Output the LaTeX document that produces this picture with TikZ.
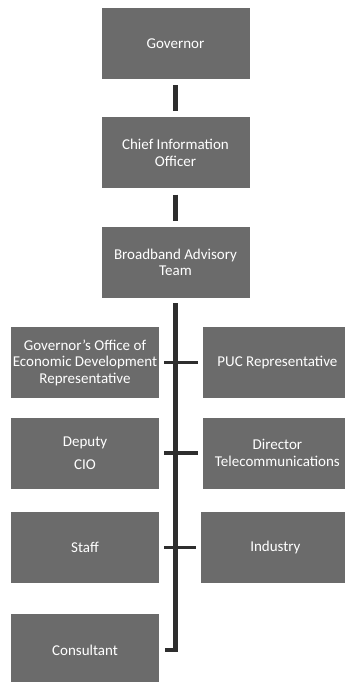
\documentclass[tikz,border=0pt]{standalone}
\usepackage{fontspec}
\setsansfont{Carlito}
\usetikzlibrary{positioning}
\definecolor{cBox}{gray}{0.42}
\definecolor{cLine}{gray}{0.18}
\tikzset{
  font=\sffamily,
  orgbox/.style={fill=cBox, text=white, minimum width=148pt, minimum height=71pt,
    inner sep=1pt, align=center, font=\sffamily\fontsize{15}{16.5}\selectfont},
  link/.style={draw=cLine, line width=4.5pt, shorten <=6pt, shorten >=6pt},
  trunk/.style={draw=cLine, line width=4.5pt, shorten <=5pt, shorten >=6pt},
  tick/.style={draw=cLine, line width=3.5pt, shorten <=5pt, shorten >=5pt},
}

\begin{document}
\begin{tikzpicture}

  \useasboundingbox (0,0) rectangle (345pt,-682pt);

  % ----------------------------------------------------------------
  % Top of the chain
  % ----------------------------------------------------------------
  \node[orgbox] (gov) at (175.5pt,-43.5pt) {Governor};
  \node[orgbox, below=38pt of gov] (cio) {Chief Information\\ Officer};
  \node[orgbox, below=38pt of cio] (bat) {Broadband Advisory\\ Team};

  \draw[link] (gov) -- (cio);
  \draw[link] (cio) -- (bat);

  % ----------------------------------------------------------------
  % Team members, left and right of the trunk
  % ----------------------------------------------------------------
  \node[orgbox, below=29pt of bat, xshift=-90.5pt] (goed)
    {Governor’s Office of\\ Economic Development\\ Representative};
  \node[orgbox, right=44pt of goed] (puc) {PUC Representative};

  \node[orgbox, below=19pt of goed] (deputy) {Deputy\\[7pt] CIO};
  \node[orgbox, right=44pt of deputy] (director) {Director\\ Telecommunications};

  \node[orgbox, below=23pt of deputy] (staff) {Staff};
  \node[orgbox, right=42pt of staff] (industry) {Industry};

  \node[orgbox, below=31pt of staff] (consultant) {Consultant};

  % ----------------------------------------------------------------
  % Trunk and ticks
  % ----------------------------------------------------------------
  \draw[trunk] (bat.south) |- (consultant.east);
  \draw[tick] (goed) -- (puc);
  \draw[tick] (deputy) -- (director);
  \draw[tick] (staff) -- (industry);

\end{tikzpicture}
\end{document}
